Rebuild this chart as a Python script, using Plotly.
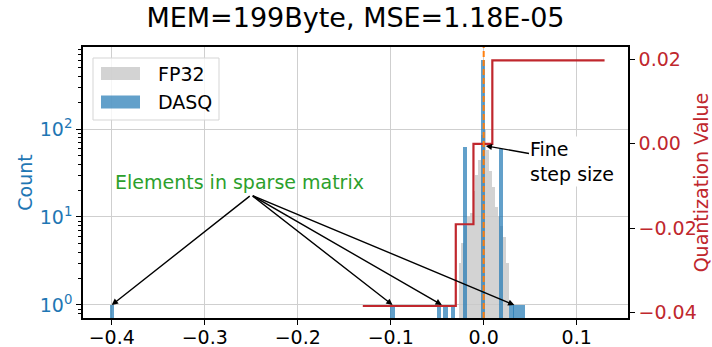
import plotly.graph_objects as go

# ---------------- data ----------------
# FP32 weight histogram (bin centres, counts)
fp32_x = [-0.0255, -0.0225, -0.0195, -0.0165, -0.0135, -0.0105, -0.0075, -0.0045,
          -0.0015, 0.0015, 0.0045, 0.0075, 0.0105, 0.0135, 0.0165, 0.0195, 0.0225, 0.0255]
fp32_counts = [3, 5, 8, 10, 11, 20, 30, 45, 85, 100, 58, 33, 22, 13, 10, 8, 6, 3]

# DASQ (quantized) histogram (bin centres, counts)
dasq_x = [-0.400, -0.098, -0.048, -0.041, -0.033, -0.020, -0.001, 0.019,
          0.030, 0.034, 0.038, 0.042]
dasq_counts = [1, 1, 1, 1, 1, 63, 605, 60, 1, 1, 1, 1]

# Quantization function (step)
quant_x = [-0.13, -0.030, -0.011, 0.0093, 0.13]
quant_y = [-0.0385, -0.0191, 0.0, 0.0198, 0.0198]

# mean line
mean_x = 0.0

# sparse-matrix elements pointed at
sparse_x = [-0.400, -0.098, -0.045, 0.033]

x_ticks = [-0.4, -0.3, -0.2, -0.1, 0.0, 0.1]
count_ticks = [1, 10, 100]
count_tick_text = ["10<sup>0</sup>", "10<sup>1</sup>", "10<sup>2</sup>"]
count_minor = [0.8, 0.9] + [m * 10 ** e for e in (0, 1, 2) for m in range(2, 10)]
quant_ticks = [-0.04, -0.02, 0.0, 0.02]

series_names = ["FP32", "DASQ"]
title_text = "MEM=199Byte, MSE=1.18E-05"

# ---------------- style ----------------
FONT = "DejaVu Sans"
BLUE = "#1f77b4"
RED = "#c0272d"
GREEN = "#2ca02c"
ORANGE = "#ff7f0e"
GREY_FILL = "rgba(200,200,200,0.8)"
BLUE_FILL = "rgba(31,119,180,0.7)"
FS = 19

L, R, T, B = 83, 84, 47, 29
W, H = 712, 347
PW, PH = W - L - R, H - T - B


def px(xp):
    return (xp - L) / PW


def py(yp):
    return (H - B - yp) / PH


fig = go.Figure()
fig.add_trace(go.Bar(x=fp32_x, y=fp32_counts, width=0.003, name=series_names[0],
                     showlegend=False,
                     marker=dict(color=GREY_FILL, line=dict(width=0))))
fig.add_trace(go.Bar(x=dasq_x, y=dasq_counts, width=0.0045, name=series_names[1],
                     showlegend=False,
                     marker=dict(color=BLUE_FILL, line=dict(width=0))))
fig.add_trace(go.Scatter(x=quant_x, y=quant_y, mode="lines", yaxis="y2", showlegend=False,
                         line=dict(shape="hv", color=RED, width=2.2)))

fig.add_shape(type="line", xref="x", yref="paper", x0=mean_x, x1=mean_x, y0=0, y1=1,
              line=dict(color=ORANGE, width=2, dash="6px,3px"), layer="above")

# legend (matplotlib-style box with wide swatches)
fig.add_shape(type="rect", xref="paper", yref="paper", x0=px(93), x1=px(219),
              y0=py(120), y1=py(58), fillcolor="rgba(255,255,255,0.8)",
              line=dict(color="#d5d5d5", width=1), layer="above")
for i, (nm, col) in enumerate(zip(series_names, [GREY_FILL, BLUE_FILL])):
    yc = 73.5 + i * 28.5
    fig.add_shape(type="rect", xref="paper", yref="paper", x0=px(101), x1=px(140),
                  y0=py(yc + 6.5), y1=py(yc - 6.5), fillcolor=col, line=dict(width=0),
                  layer="above")
    fig.add_annotation(x=px(156), y=py(yc), xref="paper", yref="paper", text=nm,
                       showarrow=False, xanchor="left", yanchor="middle",
                       font=dict(family=FONT, size=FS, color="black"))

# arrows to sparse elements
for sx in sparse_x:
    fig.add_annotation(x=sx, y=0, xref="x", yref="y", ax=-0.25, ay=1.25, axref="x", ayref="y",
                       text="", showarrow=True, arrowhead=2, arrowsize=0.9, arrowwidth=1.4,
                       arrowcolor="black")
fig.add_annotation(x=-0.2624, y=1.40, xref="x", yref="y", text="Elements in sparse matrix",
                   showarrow=False, font=dict(family=FONT, size=FS, color=GREEN),
                   xanchor="center", yanchor="middle")

# fine step size (text carries its own arrow)
fig.add_annotation(x=0.0022, y=-0.0005, xref="x", yref="y2", ax=0.0955, ay=-0.0041,
                   axref="x", ayref="y2", text="Fine<br>step size", showarrow=True,
                   arrowhead=2, arrowsize=0.9, arrowwidth=1.4, arrowcolor="black",
                   align="left", bgcolor="white",
                   font=dict(family=FONT, size=FS, color="black"))

fig.update_layout(
    width=W, height=H,
    margin=dict(l=L, r=R, t=T, b=B, autoexpand=False),
    paper_bgcolor="white", plot_bgcolor="white",
    font=dict(family=FONT, size=FS, color="black"),
    barmode="overlay", bargap=0,
    title=dict(text=title_text, x=0.5, xref="paper", xanchor="center",
               y=1 - 18 / H, yanchor="middle", font=dict(family=FONT, size=27)),
    showlegend=False,
    xaxis=dict(range=[-0.4309, 0.1552], tickvals=x_ticks, tickformat=".1f",
               showgrid=True, gridcolor="#cfcfcf", gridwidth=1.2, automargin=False,
               ticks="outside", ticklen=5, tickwidth=1.3, tickcolor="black",
               ticklabelstandoff=-4,
               showline=True, linecolor="black", linewidth=1.5, mirror=True,
               zeroline=False, tickfont=dict(size=FS)),
    yaxis=dict(type="log", range=[-0.148, 2.932], tickvals=count_ticks,
               ticktext=count_tick_text, showgrid=True, gridcolor="#cfcfcf", gridwidth=1.2,
               ticks="outside", ticklen=5, tickwidth=1.3, tickcolor="black",
               minor=dict(tickvals=count_minor, ticks="outside", ticklen=3,
                          tickcolor="black", tickwidth=1, showgrid=False),
               showline=True, linecolor="black", linewidth=1.5, automargin=False,
               zeroline=False, tickfont=dict(size=FS, color=BLUE),
               title=dict(text="Count", font=dict(size=FS, color=BLUE), standoff=2)),
    yaxis2=dict(overlaying="y", side="right", range=[-0.04135, 0.02297],
                tickvals=quant_ticks, tickformat=".2f", showgrid=False,
                ticks="outside", ticklen=5, tickwidth=1.3, tickcolor="black",
                showline=True, linecolor="black", linewidth=1.5, zeroline=False,
                automargin=False, tickfont=dict(size=FS, color=RED),
                title=dict(text="Quantization Value", font=dict(size=FS, color=RED),
                           standoff=6)),
)

fig.write_html("out.html")
